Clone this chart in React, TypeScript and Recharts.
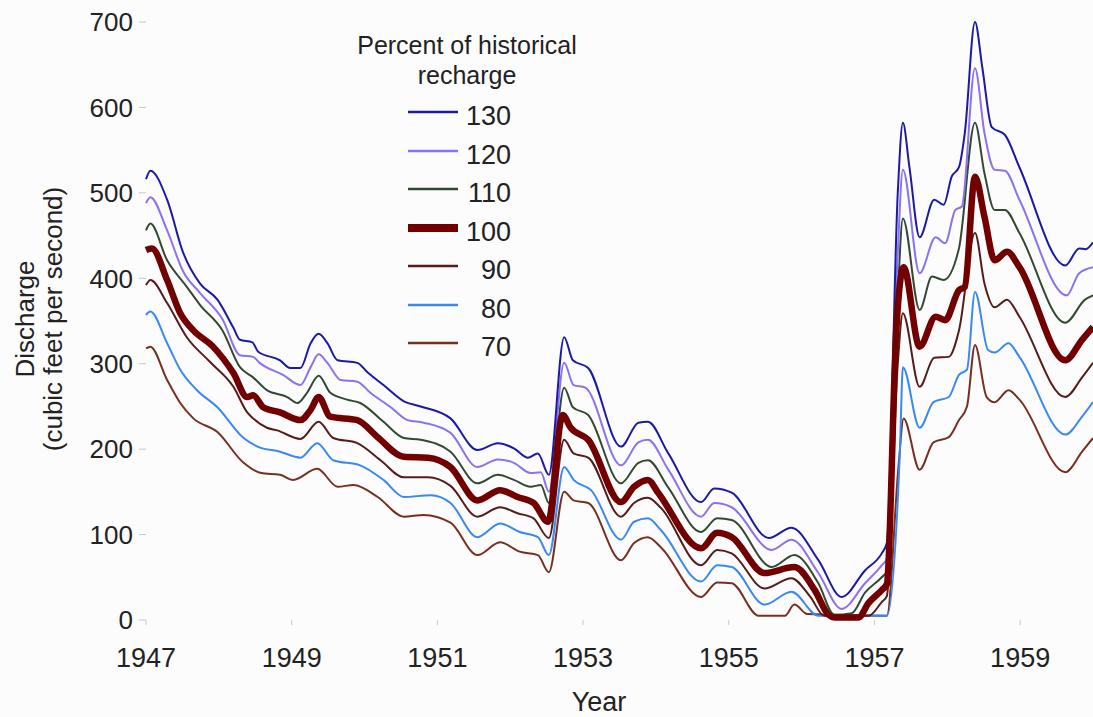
import React from 'react';
import { LineChart, Line, XAxis, YAxis, Legend } from 'recharts';

// discharge (cfs) by year, one list per recharge scenario
const s130 = [
  [1947.0, 516], [1947.06, 526], [1947.29, 492], [1947.51, 430], [1947.74, 394], [1947.98, 375],
  [1948.2, 342], [1948.29, 328], [1948.46, 325], [1948.54, 314], [1948.84, 304], [1948.98, 295],
  [1949.12, 295], [1949.26, 324], [1949.37, 335], [1949.49, 324], [1949.63, 304], [1949.9, 301],
  [1950.04, 290], [1950.26, 275], [1950.54, 256], [1950.77, 250], [1951.18, 236], [1951.55, 199],
  [1951.83, 207], [1952.05, 201], [1952.24, 190], [1952.38, 195], [1952.53, 170], [1952.74, 331],
  [1952.86, 304], [1953.07, 295], [1953.52, 203], [1953.76, 231], [1953.89, 232], [1954.17, 195],
  [1954.62, 138], [1954.8, 154], [1955.04, 149], [1955.55, 96], [1955.86, 108], [1956.23, 70],
  [1956.55, 27], [1956.87, 58], [1957.1, 78], [1957.17, 90], [1957.32, 500], [1957.39, 582],
  [1957.48, 530], [1957.62, 448], [1957.82, 492], [1957.95, 486], [1958.06, 519], [1958.16, 530],
  [1958.24, 570], [1958.38, 700], [1958.48, 647], [1958.61, 577], [1958.79, 568], [1958.99, 530],
  [1959.62, 415], [1959.81, 435], [1959.9, 434], [1960.0, 442],
];
const s120 = [
  [1947.0, 488], [1947.06, 495], [1947.29, 456], [1947.51, 408], [1947.74, 383], [1948.05, 352],
  [1948.29, 310], [1948.47, 308], [1948.56, 301], [1948.88, 287], [1949.12, 275], [1949.26, 296],
  [1949.37, 311], [1949.49, 301], [1949.67, 281], [1949.9, 279], [1950.08, 266], [1950.36, 249],
  [1950.59, 234], [1950.81, 231], [1951.18, 219], [1951.55, 179], [1951.83, 188], [1952.05, 184],
  [1952.28, 172], [1952.42, 173], [1952.53, 150], [1952.74, 301], [1952.87, 275], [1953.03, 272],
  [1953.52, 181], [1953.76, 208], [1953.89, 211], [1954.17, 176], [1954.62, 121], [1954.8, 137],
  [1955.04, 132], [1955.59, 82], [1955.86, 94], [1956.23, 55], [1956.55, 13], [1956.87, 43],
  [1957.1, 64], [1957.17, 72], [1957.32, 430], [1957.39, 527], [1957.62, 406], [1957.84, 448],
  [1957.97, 441], [1958.11, 480], [1958.2, 484], [1958.38, 646], [1958.51, 570], [1958.65, 527],
  [1958.79, 526], [1958.99, 492], [1959.64, 380], [1959.81, 406], [1960.0, 413],
];
const s110 = [
  [1947.0, 456], [1947.06, 464], [1947.29, 421], [1947.56, 390], [1947.74, 369], [1948.05, 339],
  [1948.29, 296], [1948.47, 284], [1948.66, 269], [1948.94, 261], [1949.08, 254], [1949.21, 266],
  [1949.37, 286], [1949.53, 266], [1949.76, 258], [1949.94, 254], [1950.26, 232], [1950.54, 213],
  [1950.77, 211], [1951.18, 197], [1951.55, 160], [1951.83, 170], [1952.05, 164], [1952.28, 156],
  [1952.42, 158], [1952.53, 137], [1952.74, 272], [1952.86, 249], [1953.07, 240], [1953.52, 160],
  [1953.76, 184], [1953.89, 187], [1954.17, 155], [1954.62, 103], [1954.84, 119], [1955.04, 117],
  [1955.59, 62], [1955.9, 76], [1956.23, 43], [1956.45, 6], [1956.69, 8], [1956.87, 32],
  [1957.1, 50], [1957.17, 57], [1957.32, 380], [1957.39, 470], [1957.62, 363], [1957.79, 402],
  [1957.95, 398], [1958.16, 435], [1958.38, 582], [1958.51, 523], [1958.65, 480], [1958.79, 480],
  [1958.99, 453], [1959.62, 348], [1959.89, 375], [1960.0, 380],
];
const s100 = [
  [1947.0, 433], [1947.08, 435], [1947.29, 398], [1947.47, 359], [1947.65, 339], [1947.92, 320],
  [1948.2, 289], [1948.39, 261], [1948.47, 263], [1948.61, 249], [1948.84, 243], [1949.12, 234],
  [1949.26, 246], [1949.37, 261], [1949.53, 238], [1949.9, 234], [1950.18, 214], [1950.54, 191],
  [1950.87, 190], [1951.18, 179], [1951.55, 140], [1951.86, 152], [1952.1, 144], [1952.32, 137],
  [1952.52, 115], [1952.72, 240], [1952.83, 225], [1953.07, 211], [1953.52, 138], [1953.7, 156],
  [1953.89, 164], [1954.03, 149], [1954.62, 84], [1954.84, 102], [1955.04, 97], [1955.49, 55],
  [1955.9, 62], [1956.18, 35], [1956.37, 6], [1956.45, 3], [1956.78, 3], [1956.92, 20],
  [1957.1, 35], [1957.17, 42], [1957.3, 340], [1957.4, 413], [1957.62, 320], [1957.84, 355],
  [1957.97, 351], [1958.16, 386], [1958.24, 390], [1958.38, 519], [1958.51, 472], [1958.65, 421],
  [1958.82, 431], [1958.99, 413], [1959.62, 304], [1959.85, 328], [1960.0, 343],
];
const s90 = [
  [1947.0, 392], [1947.06, 398], [1947.29, 371], [1947.56, 331], [1947.88, 302], [1948.2, 273],
  [1948.39, 243], [1948.47, 236], [1948.66, 225], [1948.8, 222], [1949.12, 212], [1949.37, 232],
  [1949.57, 213], [1949.9, 207], [1950.22, 187], [1950.54, 167], [1950.87, 167], [1951.18, 157],
  [1951.55, 121], [1951.86, 132], [1952.1, 125], [1952.32, 119], [1952.53, 96], [1952.74, 211],
  [1952.87, 195], [1953.07, 190], [1953.52, 121], [1953.7, 137], [1953.89, 143], [1954.07, 131],
  [1954.62, 64], [1954.84, 82], [1955.04, 78], [1955.49, 37], [1955.86, 49], [1956.12, 27],
  [1956.31, 5], [1956.92, 5], [1957.1, 21], [1957.17, 28], [1957.32, 300], [1957.39, 359],
  [1957.62, 273], [1957.82, 307], [1958.02, 308], [1958.16, 339], [1958.38, 453], [1958.51, 394],
  [1958.65, 366], [1958.82, 375], [1958.99, 355], [1959.62, 261], [1959.85, 284], [1960.0, 301],
];
const s80 = [
  [1947.0, 357], [1947.06, 361], [1947.29, 324], [1947.47, 293], [1947.7, 269], [1947.98, 249],
  [1948.34, 213], [1948.53, 203], [1948.84, 197], [1949.12, 190], [1949.35, 207], [1949.57, 187],
  [1949.94, 181], [1950.26, 164], [1950.54, 144], [1950.91, 146], [1951.18, 137], [1951.55, 97],
  [1951.86, 113], [1952.13, 103], [1952.38, 97], [1952.53, 76], [1952.74, 179], [1952.87, 164],
  [1953.11, 152], [1953.52, 94], [1953.7, 115], [1953.89, 119], [1954.07, 105], [1954.62, 45],
  [1954.84, 64], [1955.04, 62], [1955.49, 18], [1955.86, 33], [1956.23, 5], [1957.17, 5],
  [1957.35, 200], [1957.39, 296], [1957.62, 225], [1957.81, 255], [1958.02, 261], [1958.16, 287],
  [1958.27, 293], [1958.38, 384], [1958.56, 316], [1958.65, 313], [1958.84, 324], [1958.99, 308],
  [1959.62, 217], [1959.85, 238], [1960.0, 255],
];
const s70 = [
  [1947.0, 318], [1947.06, 320], [1947.29, 281], [1947.47, 254], [1947.65, 236], [1947.98, 220],
  [1948.34, 184], [1948.58, 172], [1948.84, 170], [1949.02, 164], [1949.35, 177], [1949.63, 156],
  [1949.85, 158], [1950.18, 144], [1950.54, 121], [1950.81, 123], [1951.18, 114], [1951.55, 76],
  [1951.86, 91], [1952.13, 80], [1952.38, 76], [1952.53, 56], [1952.74, 150], [1952.87, 140],
  [1953.07, 137], [1953.52, 70], [1953.7, 90], [1953.89, 97], [1954.07, 85], [1954.62, 27],
  [1954.84, 44], [1955.04, 43], [1955.41, 5], [1955.77, 5], [1955.9, 18], [1956.08, 7],
  [1957.17, 5], [1957.33, 180], [1957.4, 236], [1957.62, 176], [1957.81, 208], [1958.02, 214],
  [1958.16, 234], [1958.27, 250], [1958.38, 322], [1958.54, 261], [1958.65, 255], [1958.84, 269],
  [1958.99, 258], [1959.62, 173], [1959.85, 197], [1960.0, 213],
];

const yearTicks = [1947, 1949, 1951, 1953, 1955, 1957, 1959];
const flowTicks = [0, 100, 200, 300, 400, 500, 600, 700];

const toRows = (pts: number[][]) => pts.map(([year, q]) => ({ year, q }));

// legend order (top to bottom)
const series = [
  { name: '130', pts: s130, color: '#1a1aa6', width: 2 },
  { name: '120', pts: s120, color: '#8a72f0', width: 2 },
  { name: '110', pts: s110, color: '#334a32', width: 2 },
  { name: '100', pts: s100, color: '#720000', width: 6.5 },
  { name: '90', pts: s90, color: '#561c1c', width: 2 },
  { name: '80', pts: s80, color: '#3a88f2', width: 2 },
  { name: '70', pts: s70, color: '#77301f', width: 2 },
];

// thick 100% line painted last so it sits on top
const drawOrder = ['70', '80', '90', '110', '120', '130', '100'];

const FONT = '"Liberation Sans", Arial, sans-serif';

const YearTick = (props: any) => {
  const { x, y, payload } = props;
  return (
    <text x={x} y={y + 40} textAnchor="middle" fill="#222" fontSize={27} fontFamily={FONT}>
      {payload.value}
    </text>
  );
};

const YearLabel = (props: any) => {
  const { viewBox } = props;
  return (
    <text x={599} y={viewBox.y + 82} textAnchor="middle" dominantBaseline="central" fill="#222" fontSize={27} fontFamily={FONT}>
      Year
    </text>
  );
};

const FlowLabel = (props: any) => {
  const { viewBox } = props;
  const cy = viewBox.y + viewBox.height / 2 - 2;
  return (
    <g fill="#222" fontSize={26} fontFamily={FONT}>
      <text transform={`translate(25,${cy}) rotate(-90)`} textAnchor="middle" dominantBaseline="central">
        Discharge
      </text>
      <text transform={`translate(53,${cy}) rotate(-90)`} textAnchor="middle" dominantBaseline="central">
        (cubic feet per second)
      </text>
    </g>
  );
};

const RechargeLegend = () => (
  <div style={{ fontFamily: FONT, color: '#222', width: 254 }}>
    <div style={{ textAlign: 'center', fontSize: 25, lineHeight: '30px' }}>
      Percent of historical
      <br />
      recharge
    </div>
    <div style={{ marginTop: 7 }}>
      {series.map((s) => (
        <div key={s.name} style={{ display: 'flex', alignItems: 'center', height: 38.5, paddingLeft: 67 }}>
          <svg width={52} height={20} style={{ marginTop: -8 }}>
            <line x1={1} x2={51} y1={10} y2={10} stroke={s.color} strokeWidth={s.width === 2 ? 2.5 : 8} />
          </svg>
          <span style={{ width: 48, marginLeft: 4, textAlign: 'right', fontSize: 27, lineHeight: '30px' }}>{s.name}</span>
        </div>
      ))}
    </div>
  </div>
);

export default function App() {
  return (
    <div style={{ position: 'absolute', left: 0, top: 0, background: '#fcfcfc' }}>
      <LineChart width={1093} height={717} margin={{ top: 22, right: 0, bottom: 0, left: 0 }}>
        <XAxis
          type="number"
          dataKey="year"
          domain={[1947, 1960]}
          ticks={yearTicks}
          height={97}
          axisLine={false}
          tickLine={{ stroke: '#c8c8c8' }}
          tickSize={5}
          tick={<YearTick />}
          label={<YearLabel />}
        />
        <YAxis
          type="number"
          domain={[0, 700]}
          ticks={flowTicks}
          width={146}
          axisLine={false}
          tickLine={{ stroke: '#c8c8c8' }}
          tickSize={7}
          tickMargin={6}
          tick={{ fill: '#222', fontSize: 26, fontFamily: FONT }}
          label={<FlowLabel />}
        />
        <Legend
          layout="horizontal"
          verticalAlign="middle"
          align="center"
          content={<RechargeLegend />}
          wrapperStyle={{ position: 'absolute', left: 340, top: 30, width: 254 }}
        />
        {drawOrder.map((n) => {
          const s = series.find((v) => v.name === n)!;
          return (
            <Line
              key={s.name}
              name={s.name}
              data={toRows(s.pts)}
              dataKey="q"
              type="monotone"
              stroke={s.color}
              strokeWidth={s.width}
              strokeLinejoin="round"
              dot={false}
              activeDot={false}
              isAnimationActive={false}
            />
          );
        })}
      </LineChart>
    </div>
  );
}
